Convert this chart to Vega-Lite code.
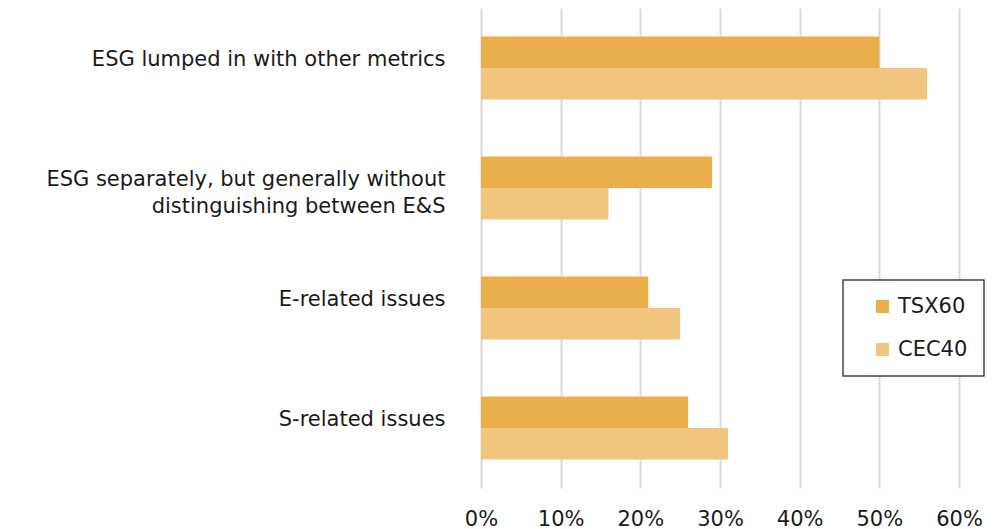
{
  "$schema": "https://vega.github.io/schema/vega-lite/v6.json",
  "width": 478,
  "height": 480,
  "autosize": {"type": "none"},
  "padding": {"left": 481, "top": 8, "right": 37, "bottom": 41},
  "background": "white",
  "config": {
    "view": {"stroke": null},
    "font": "DejaVu Sans"
  },
  "data": {
    "values": [
      {"category": "ESG lumped in with other metrics", "series": "TSX60", "value": 0.50},
      {"category": "ESG lumped in with other metrics", "series": "CEC40", "value": 0.56},
      {"category": "ESG separately, but generally without|distinguishing between E&S", "series": "TSX60", "value": 0.29},
      {"category": "ESG separately, but generally without|distinguishing between E&S", "series": "CEC40", "value": 0.16},
      {"category": "E-related issues", "series": "TSX60", "value": 0.21},
      {"category": "E-related issues", "series": "CEC40", "value": 0.25},
      {"category": "S-related issues", "series": "TSX60", "value": 0.26},
      {"category": "S-related issues", "series": "CEC40", "value": 0.31}
    ]
  },
  "mark": {"type": "bar"},
  "encoding": {
    "y": {
      "field": "category",
      "type": "nominal",
      "sort": null,
      "scale": {"paddingInner": 0.475, "paddingOuter": 0.2375},
      "axis": {
        "title": null,
        "domain": false,
        "ticks": false,
        "labelExpr": "split(datum.label, '|')",
        "labelFontSize": 21,
        "labelColor": "#1a1a1a",
        "labelPadding": 36,
        "labelOffset": -8,
        "labelLimit": 0,
        "labelLineHeight": 27,
        "labelFont": "DejaVu Sans"
      }
    },
    "yOffset": {"field": "series", "type": "nominal", "sort": ["TSX60", "CEC40"], "scale": {"paddingInner": 0, "paddingOuter": 0}},
    "x": {
      "field": "value",
      "type": "quantitative",
      "scale": {"domain": [0, 0.6], "nice": false},
      "axis": {
        "title": null,
        "format": ".0%",
        "values": [0, 0.1, 0.2, 0.3, 0.4, 0.5, 0.6],
        "domain": false,
        "ticks": false,
        "grid": true,
        "gridColor": "#d9d9d9",
        "gridWidth": 2,
        "labelFlush": false,
        "labelOverlap": false,
        "labelFontSize": 21,
        "labelColor": "#1a1a1a",
        "labelPadding": 20,
        "labelFont": "DejaVu Sans"
      }
    },
    "color": {
      "field": "series",
      "type": "nominal",
      "sort": ["TSX60", "CEC40"],
      "scale": {"domain": ["TSX60", "CEC40"], "range": ["#E8AF4B", "#F0C67E"]},
      "legend": {
        "title": null,
        "orient": "none",
        "legendX": 362,
        "legendY": 272,
        "direction": "vertical",
        "symbolType": "square",
        "symbolSize": 169,
        "symbolStrokeWidth": 0,
        "symbolOffset": 13,
        "labelFontSize": 21,
        "labelColor": "#1a1a1a",
        "labelFont": "DejaVu Sans",
        "rowPadding": 21,
        "padding": 16,
        "strokeColor": "#444444",
        "fillColor": "white",
        "labelOffset": 5,
        "offset": 0,
        "encode": {"legend": {"update": {"strokeWidth": {"value": 1.5}}}}
      }
    }
  }
}
